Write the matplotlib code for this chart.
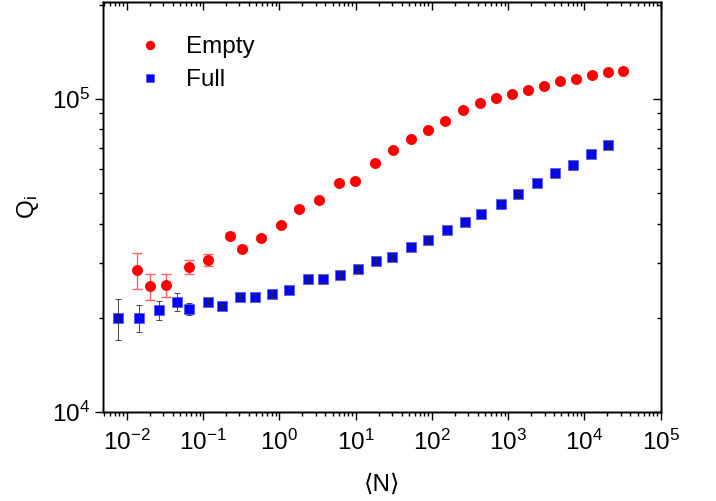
import matplotlib
matplotlib.use("Agg")
import matplotlib.pyplot as plt
from matplotlib.ticker import FixedLocator, NullFormatter, LogFormatterSciNotation

plt.rcParams['font.family'] = ['Liberation Sans', 'DejaVu Sans']
plt.rcParams['mathtext.default'] = 'regular'
plt.rcParams['axes.unicode_minus'] = False

# Empty resonator: mean photon number vs internal quality factor
empty_n = [0.0135, 0.0204, 0.0331, 0.0664, 0.1156, 0.227, 0.326, 0.578, 1.04,
           1.84, 3.31, 6.06, 9.82, 18.0, 31.3, 53.3, 90.0, 150, 257, 424, 697,
           1115, 1828, 2966, 4810, 7710, 12500, 20300, 32300]
empty_q = [28470, 25240, 25500, 29160, 30640, 36640, 33300, 36020, 39720,
           44570, 47720, 53950, 54870, 62500, 68770, 74850, 79620, 85270,
           92240, 97100, 100950, 103750, 107080, 110270, 114150, 116100,
           119830, 122500, 123400]
empty_err = [3750, 2400, 2100, 1500, 1300, 700, 600, 600, 600, 700, 700, 800,
             800, 900, 1000, 1000, 1100, 1100, 1200, 1200, 1300, 1300, 1300,
             1400, 1400, 1400, 1500, 1500, 1500]

# Full resonator
full_n = [0.00776, 0.0145, 0.0265, 0.0457, 0.0664, 0.1156, 0.1766, 0.310,
          0.483, 0.791, 1.336, 2.39, 3.77, 6.30, 10.7, 18.3, 30.3, 52.7, 90.0,
          158, 269, 447, 800, 1365, 2404, 4140, 6980, 12020, 20300]
full_q = [20010, 20010, 21220, 22500, 21320, 22550, 21850, 23400, 23280,
          23800, 24580, 26710, 26710, 27510, 28680, 30420, 31230, 33620,
          35490, 38190, 40400, 42990, 46340, 49620, 53790, 58050, 61590,
          66580, 71110]
full_err = [3000, 2000, 1500, 1500, 950, 600, 300, 500, 600, 600, 650, 700,
            700, 750, 800, 850, 850, 900, 950, 1000, 1050, 1100, 1200, 1250,
            1350, 1450, 1550, 1650, 1750]

x_major = [10.0 ** e for e in range(-2, 6)]
x_minor = [m * 10.0 ** e for e in range(-3, 5) for m in range(2, 10)]
y_major = [1e4, 1e5]
y_minor = [m * 10.0 ** e for e in (4, 5) for m in range(2, 10)]
xlim = (0.004934, 1e5)
ylim = (1e4, 2.04e5)

fig = plt.figure(figsize=(7.16, 5.01), dpi=100)
ax = fig.add_axes([0.1443, 0.1776, 0.7785, 0.8178])

ax.errorbar(empty_n, empty_q, yerr=empty_err, fmt='none', ecolor='#ff6060',
            elinewidth=1.0, capsize=3.3, capthick=1.0, zorder=2)
ax.plot(empty_n, empty_q, 'o', color='#ff0000', markersize=7.9,
        markeredgewidth=0, label='Empty', zorder=3)
ax.plot(full_n, full_q, 's', color='#0000ff', markersize=6.8,
        markeredgecolor='#5a5aff', markeredgewidth=0.6, label='Full', zorder=3)
ax.errorbar(full_n, full_q, yerr=full_err, fmt='none', ecolor='#2a2a2a',
            elinewidth=0.6, capsize=2.5, capthick=0.6, zorder=4)

ax.set_xscale('log')
ax.set_yscale('log')
ax.set_xlim(*xlim)
ax.set_ylim(*ylim)

ax.xaxis.set_major_locator(FixedLocator(x_major))
ax.xaxis.set_minor_locator(FixedLocator(x_minor))
ax.xaxis.set_minor_formatter(NullFormatter())
ax.yaxis.set_major_locator(FixedLocator(y_major))
ax.yaxis.set_minor_locator(FixedLocator(y_minor))
ax.yaxis.set_minor_formatter(NullFormatter())
ax.xaxis.set_major_formatter(LogFormatterSciNotation())
ax.yaxis.set_major_formatter(LogFormatterSciNotation())

for s in ax.spines.values():
    s.set_linewidth(1.0)
ax.tick_params(which='major', direction='out', length=5.5, width=1.0,
               labelsize=17.5, pad=4)
ax.tick_params(which='minor', direction='out', length=3.0, width=1.0)
ax.tick_params(axis='x', which='major', pad=7)

# inward ticks on the top and right edges
axt = ax.twiny()
axt.set_xscale('log')
axt.set_xlim(*xlim)
axt.xaxis.set_major_locator(FixedLocator(x_major))
axt.xaxis.set_minor_locator(FixedLocator(x_minor))
axt.xaxis.set_minor_formatter(NullFormatter())
axt.tick_params(which='both', direction='in', labeltop=False, width=1.0)
axt.tick_params(which='major', length=5.5)
axt.tick_params(which='minor', length=3.0)

axr = ax.twinx()
axr.set_yscale('log')
axr.set_ylim(*ylim)
axr.yaxis.set_major_locator(FixedLocator(y_major))
axr.yaxis.set_minor_locator(FixedLocator(y_minor))
axr.yaxis.set_minor_formatter(NullFormatter())
axr.tick_params(which='both', direction='in', labelright=False, width=1.0)
axr.tick_params(which='major', length=5.5)
axr.tick_params(which='minor', length=3.0)
for a in (axt, axr):
    for s in a.spines.values():
        s.set_linewidth(1.0)

ax.set_xlabel('⟨N⟩', fontsize=17.5, labelpad=14)
ax.set_ylabel('Q$_i$', fontsize=17.5, labelpad=8)

ax.legend(loc='upper left', bbox_to_anchor=(0.018, 0.97), frameon=False,
          fontsize=17.5, handletextpad=0.9, labelspacing=0.45,
          handlelength=1.2, markerscale=0.85)

fig.savefig('out.png', dpi=100)
